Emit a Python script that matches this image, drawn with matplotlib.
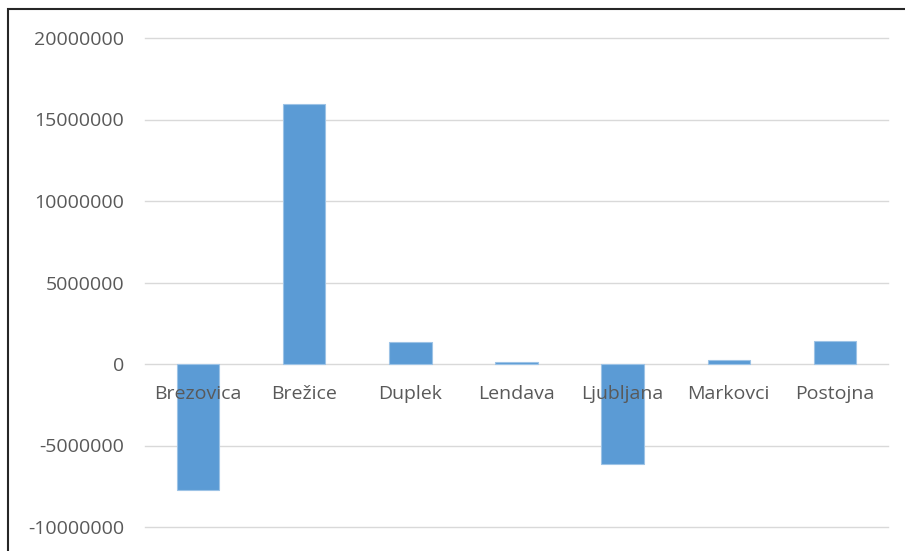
import matplotlib
matplotlib.use("Agg")
import matplotlib.pyplot as plt
from matplotlib.patches import Rectangle
from matplotlib.ticker import FuncFormatter

categories = ["Brezovica", "Brežice", "Duplek", "Lendava", "Ljubljana", "Markovci", "Postojna"]
values = [-7730000, 15950000, 1350000, 100000, -6120000, 250000, 1430000]
yticks = [-10000000, -5000000, 0, 5000000, 10000000, 15000000, 20000000]

W, H = 905, 551
fig = plt.figure(figsize=(W / 100, H / 100), dpi=100)
plt.rcParams['font.family'] = ['Open Sans', 'DejaVu Sans']

ax = fig.add_axes([145 / W, (H - 527) / H, (888 - 145) / W, (527 - 38) / H])
x = list(range(len(categories)))
for yv in yticks:
    ax.axhline(yv, color="#D9D9D9", linewidth=1.0, zorder=0.5, clip_on=False)
ax.bar(x, values, width=0.4, color="#5B9BD5", edgecolor="#9DC3E6", linewidth=0.8, zorder=1)
ax.set_xlim(-0.5, len(categories) - 0.5)
ax.set_ylim(yticks[0], yticks[-1])
ax.set_yticks(yticks)
ax.yaxis.set_major_formatter(FuncFormatter(lambda v, p: f"{int(v)}"))
ax.set_xticks(x)
ax.set_xticklabels(categories)
for s in ["top", "right", "left", "bottom"]:
    ax.spines[s].set_visible(False)
ax.spines["bottom"].set_position(("data", 0))
ax.tick_params(axis="both", length=0, colors="#595959", labelsize=14)
ax.tick_params(axis="y", pad=15)
ax.tick_params(axis="x", pad=15)

# figure border
fig.patches.append(Rectangle((8 / W, -0.05), 1.1, (H - 9) / H + 0.05,
                             transform=fig.transFigure, fill=False,
                             edgecolor="#262626", linewidth=1.5))

fig.savefig("out.png", dpi=100)
